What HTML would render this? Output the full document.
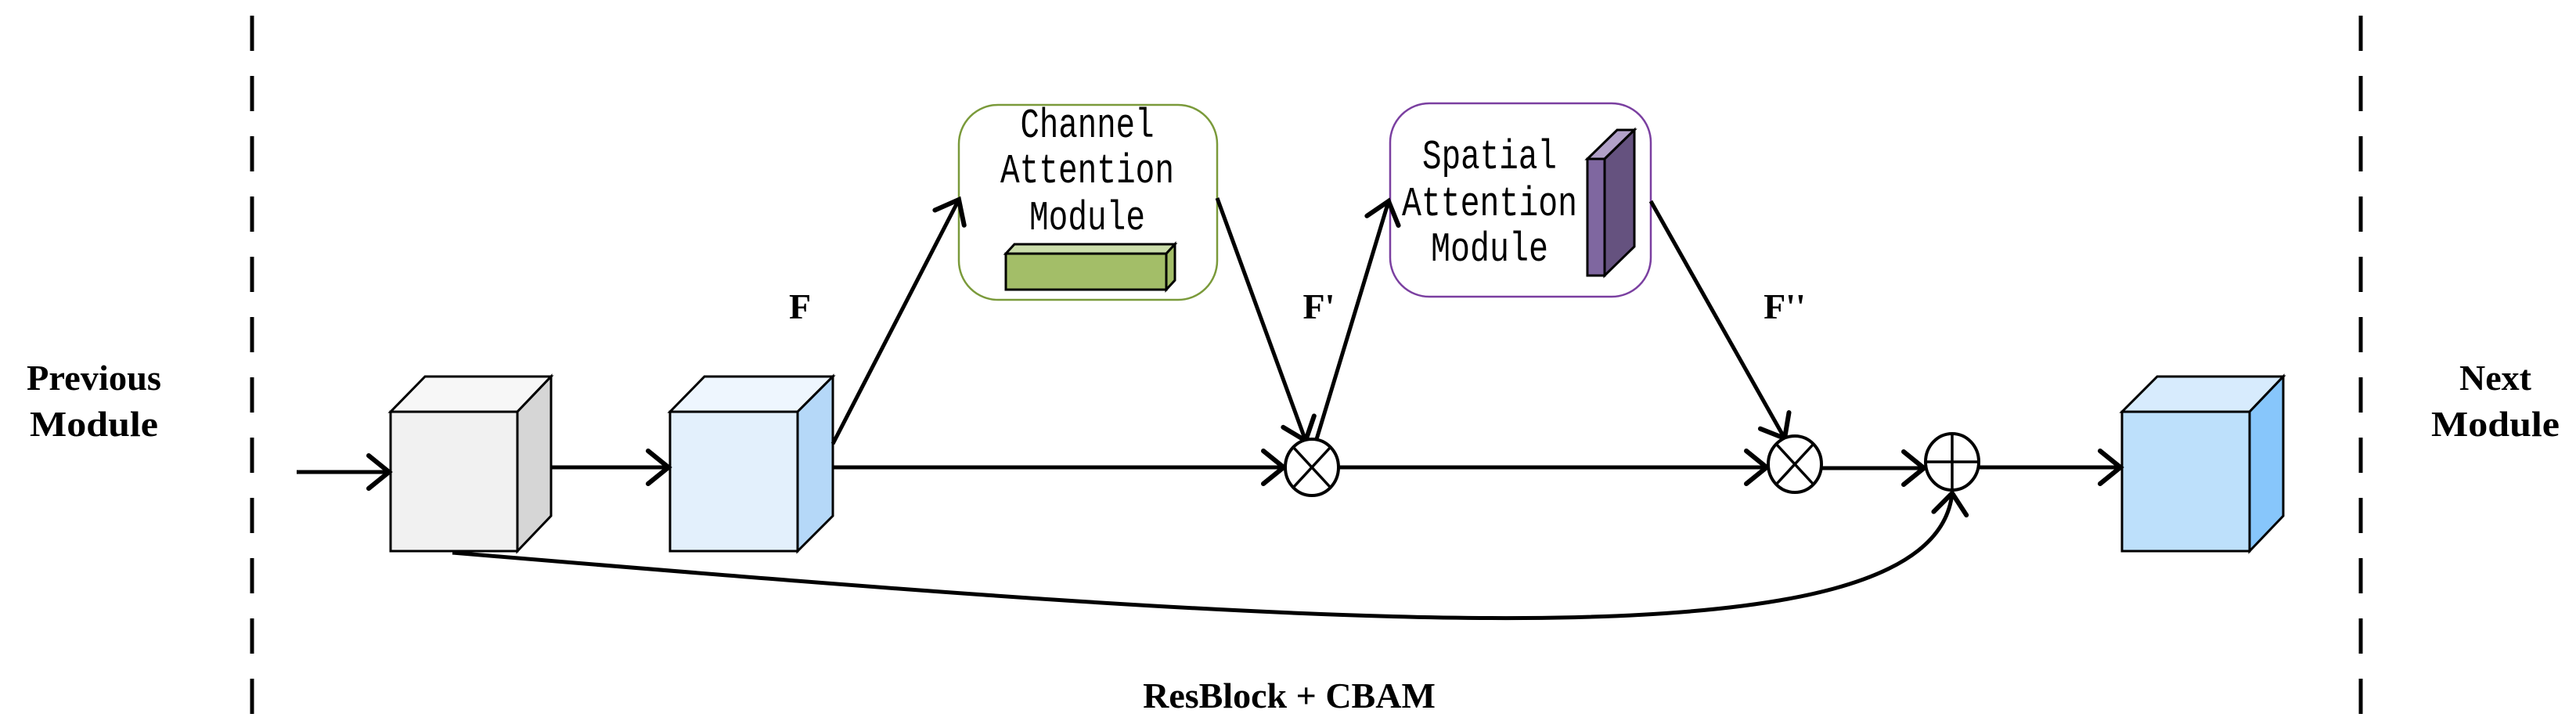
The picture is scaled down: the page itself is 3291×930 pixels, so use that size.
<!DOCTYPE html>
<html><head><meta charset="utf-8"><style>html,body{margin:0;padding:0;background:#fff}svg{display:block}</style></head>
<body>
<svg width="3291" height="930" viewBox="0 0 3291 930" xmlns="http://www.w3.org/2000/svg">
<defs>
<marker id="a" markerUnits="userSpaceOnUse" markerWidth="80" markerHeight="80" viewBox="-40 -40 80 80" refX="0" refY="0" orient="auto">
<path d="M-26 -21 L0 0 L-26 21" fill="none" stroke="#000" stroke-width="6" stroke-linecap="round" stroke-linejoin="miter"/>
</marker>
</defs>
<g stroke="#000" stroke-width="5" stroke-dasharray="45 32" fill="none">
<line x1="322" y1="20" x2="322" y2="930"/>
<line x1="3016" y1="20" x2="3016" y2="930"/>
</g>
<g font-family="Liberation Serif, serif" font-weight="bold" font-size="46" text-anchor="middle" fill="#000">
<text x="120" y="498" textLength="172" lengthAdjust="spacingAndGlyphs">Previous</text><text x="120" y="557" textLength="164" lengthAdjust="spacingAndGlyphs">Module</text>
<text x="3188" y="498">Next</text><text x="3188" y="557" textLength="164" lengthAdjust="spacingAndGlyphs">Module</text>
<text x="1022" y="407">F</text><text x="1685" y="407">F'</text><text x="2280" y="407">F''</text>
<text x="1647" y="904">ResBlock + CBAM</text>
</g>
<g stroke="#000" stroke-width="3" stroke-linejoin="miter">
<polygon points="499,526 543,481 704,481 661,526" fill="#f7f7f7"/>
<polygon points="661,526 704,481 704,659 661,704" fill="#d6d6d6"/>
<rect x="499" y="526" width="162" height="178" fill="#f1f1f1"/>
<polygon points="856,526 900,481 1064,481 1019,526" fill="#eef6fe"/>
<polygon points="1019,526 1064,481 1064,659 1019,704" fill="#b5d8f8"/>
<rect x="856" y="526" width="163" height="178" fill="#e3f0fc"/>
<polygon points="2711,526 2756,481 2917,481 2874,526" fill="#d7ebfd"/>
<polygon points="2874,526 2917,481 2917,659 2874,704" fill="#87c6fb"/>
<rect x="2711" y="526" width="163" height="178" fill="#bde0fb"/>
</g>
<rect x="1225" y="134" width="330" height="249" rx="50" fill="#fff" stroke="#7a9a3a" stroke-width="2.5"/>
<rect x="1776" y="132" width="333" height="247" rx="50" fill="#fff" stroke="#7a3fa0" stroke-width="2.5"/>
<g stroke="#000" stroke-width="3">
<polygon points="1285,324 1296,312 1501,312 1490,324" fill="#cadcaa"/>
<polygon points="1490,324 1501,312 1501,358 1490,370" fill="#a3be68"/>
<rect x="1285" y="324" width="205" height="46" fill="#a3be68"/>
<polygon points="2028,203 2066,166 2088,166 2050,203" fill="#b1a0c8"/>
<polygon points="2050,203 2088,166 2088,315 2050,352" fill="#65527f"/>
<rect x="2028" y="203" width="22" height="149" fill="#7f67a0"/>
</g>
<g font-family="Liberation Mono, monospace" font-size="53" text-anchor="middle" fill="#000">
<text x="1389" y="175" textLength="171" lengthAdjust="spacingAndGlyphs">Channel</text>
<text x="1389" y="233" textLength="222" lengthAdjust="spacingAndGlyphs">Attention</text>
<text x="1389" y="293" textLength="148" lengthAdjust="spacingAndGlyphs">Module</text>
<text x="1903" y="215" textLength="172" lengthAdjust="spacingAndGlyphs">Spatial</text>
<text x="1903" y="275" textLength="224" lengthAdjust="spacingAndGlyphs">Attention</text>
<text x="1903" y="333" textLength="150" lengthAdjust="spacingAndGlyphs">Module</text>
</g>
<g stroke="#000" stroke-width="5" fill="none" marker-end="url(#a)">
<line x1="379" y1="603" x2="497" y2="603"/>
<line x1="704" y1="597" x2="854" y2="597"/>
<line x1="1064" y1="597" x2="1640" y2="597"/>
<line x1="1064" y1="567" x2="1225" y2="255"/>
<line x1="1555" y1="253" x2="1668" y2="563"/>
<line x1="1682" y1="561" x2="1774" y2="257"/>
<line x1="2109" y1="257" x2="2280" y2="560"/>
<line x1="1710" y1="597" x2="2257" y2="597"/>
<line x1="2327" y1="598" x2="2458" y2="598"/>
<line x1="2528" y1="597" x2="2709" y2="597"/>
<path d="M578 706 C1700 800 2470 860 2494 630"/>
</g>
<g stroke="#000" stroke-width="4" fill="#fff">
<ellipse cx="1676" cy="597" rx="34" ry="36"/>
<ellipse cx="2293" cy="593" rx="34" ry="36"/>
<ellipse cx="2494" cy="590" rx="34" ry="36"/>
</g>
<g stroke="#000" stroke-width="3.5">
<line x1="1652" y1="571" x2="1700" y2="623"/><line x1="1700" y1="571" x2="1652" y2="623"/>
<line x1="2269" y1="567" x2="2317" y2="619"/><line x1="2317" y1="567" x2="2269" y2="619"/>
<line x1="2460" y1="590" x2="2528" y2="590"/><line x1="2494" y1="554" x2="2494" y2="626"/>
</g>
</svg>
</body></html>
